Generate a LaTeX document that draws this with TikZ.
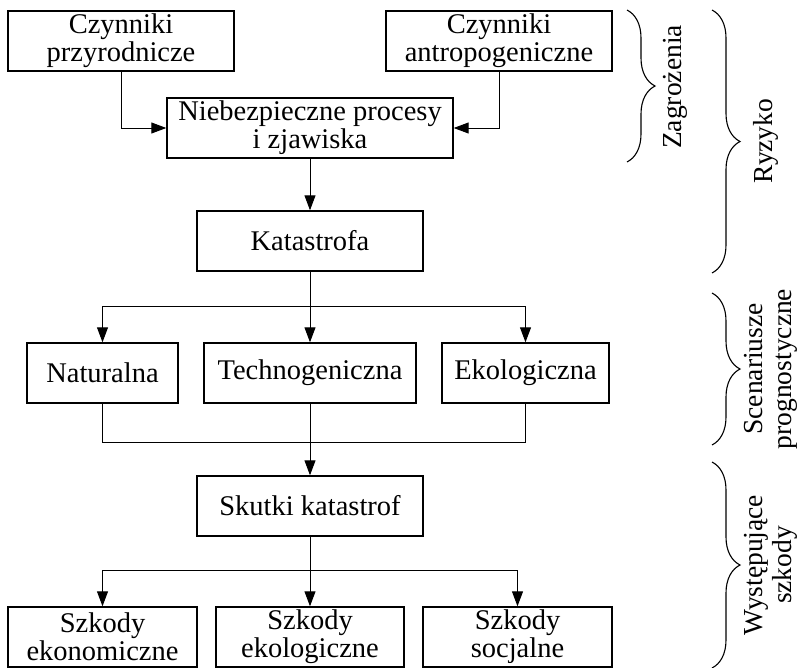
\documentclass[tikz,border=0pt]{standalone}
\usepackage{fontspec}
\setmainfont{Liberation Serif}
\usetikzlibrary{arrows.meta,decorations.pathreplacing}
\tikzset{
  box/.style={draw, line width=1.4pt, minimum height=60pt, inner sep=0pt, align=center,
    font=\fontsize{28.5}{28}\selectfont},
  arr/.style={line width=1pt, -{Triangle[length=15pt,width=11pt]}},
  ln/.style={line width=1pt},
  brc/.style={decorate, decoration={brace, amplitude=28pt}, line width=1.1pt},
  side/.style={rotate=90, align=center, font=\fontsize{27.5}{29}\selectfont},
}
\begin{document}
\begin{tikzpicture}[x=1pt,y=-1pt]
\useasboundingbox (0,0) rectangle (800,667);
\node[box, minimum width=226pt] (p1) at (121,41) {Czynniki\\przyrodnicze};
\node[box, minimum width=226pt] (p2) at (499,41) {Czynniki\\antropogeniczne};
\node[box, minimum width=286pt] (np) at (310,128) {Niebezpieczne procesy\\i zjawiska};
\node[box, minimum width=226pt] (kat) at (310,241) {Katastrofa};
\node[box, minimum width=151pt] (nat) at (102.5,373) {Naturalna};
\node[box, minimum width=212pt] (tech) at (310,373) {Technogeniczna};
\node[box, minimum width=167pt] (eko) at (525.5,373) {Ekologiczna};
\node[box, minimum width=226pt] (sk) at (310,506) {Skutki katastrof};
\node[box, minimum width=189pt] (se) at (102.5,637) {Szkody\\ekonomiczne};
\node[box, minimum width=188pt] (sek) at (310,637) {Szkody\\ekologiczne};
\node[box, minimum width=189pt] (ss) at (517.5,637) {Szkody\\socjalne};
\coordinate (j1) at (310,306);
\coordinate (j2) at (310,442);
\coordinate (j3) at (310,570);
\draw[arr] (p1.south) |- (np.west);
\draw[arr] (p2.south) |- (np.east);
\draw[arr] (np.south) -- (kat.north);
\draw[ln] (kat.south) -- (j1);
\draw[arr] (j1) -| (nat.north);
\draw[arr] (j1) -| (eko.north);
\draw[arr] (j1) -- (tech.north);
\draw[ln] (nat.south) |- (j2);
\draw[ln] (eko.south) |- (j2);
\draw[arr] (tech.south) -- (sk.north);
\draw[ln] (sk.south) -- (j3);
\draw[arr] (j3) -| (se.north);
\draw[arr] (j3) -| (ss.north);
\draw[arr] (j3) -- (sek.north);
\coordinate (b1a) at (627,10); \coordinate (b1b) at (627,162);
\coordinate (b2a) at (712,10); \coordinate (b2b) at (712,273);
\coordinate (b3a) at (712,293); \coordinate (b3b) at (712,445);
\coordinate (b4a) at (712,462); \coordinate (b4b) at (712,668);
\draw[brc] (b1a) -- (b1b);
\draw[brc] (b2a) -- (b2b);
\draw[brc] (b3a) -- (b3b);
\draw[brc] (b4a) -- (b4b);
\node[side] (t1) at (675,87) {Zagrożenia};
\node[side] (t2) at (766,141) {Ryzyko};
\node[side] (t3) at (771,369) {Scenariusze\\prognostyczne};
\node[side] (t4) at (771,565) {Występujące\\szkody};
\end{tikzpicture}
\end{document}
